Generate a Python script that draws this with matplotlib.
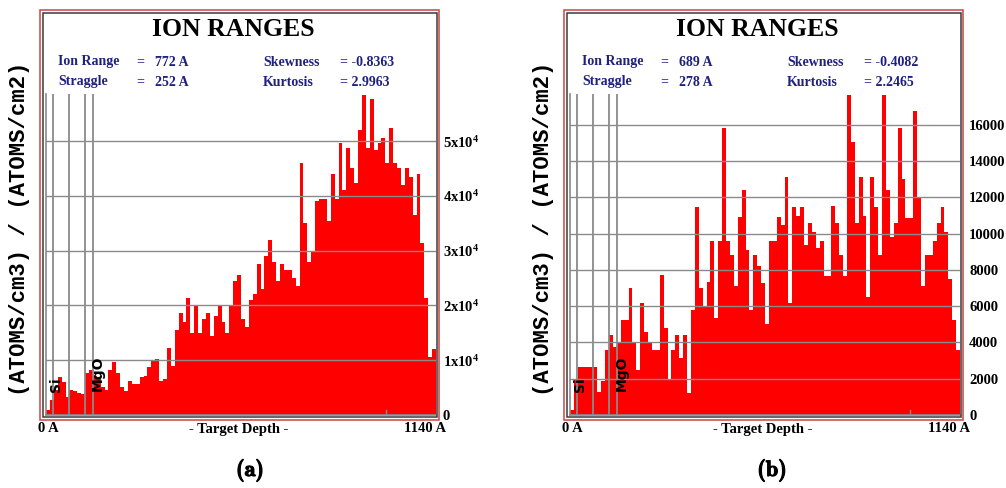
import os
import numpy as np
import matplotlib as mpl
import matplotlib.pyplot as plt
import matplotlib.patheffects as pe
from matplotlib.patches import Rectangle
from matplotlib.font_manager import FontProperties
from matplotlib.transforms import blended_transform_factory

plt.rcParams['mathtext.fontset'] = 'custom'
plt.rcParams['mathtext.rm'] = 'Liberation Serif:bold'
plt.rcParams['mathtext.it'] = 'Liberation Serif:bold'
plt.rcParams['mathtext.bf'] = 'Liberation Serif:bold'

W, H = 1006, 488

# depth axis (Angstrom), 100 bins
depth_max = 1140
n_bins = 100
layer_edges = [19, 67, 114, 137]
layer_names = ['Si', 'MgO']
layer_label_x = [28, 152]
depth_mark = 995

# ion distribution, (ATOMS/cm3)/(ATOMS/cm2)
conc_a = [
    900, 2700, 4500, 6900, 6000, 3300, 4500, 4300, 4000, 3800,
    7700, 8300, 7100, 6500, 5200, 4500, 8300, 9700, 7700, 5200,
    4300, 6200, 5600, 5600, 6900, 7200, 8800, 10000, 10300, 6200,
    6600, 12200, 9000, 15500, 18600, 17000, 21300, 15000, 20000, 15000,
    17500, 18600, 14500, 18000, 20000, 17000, 15000, 20000, 24500, 25500,
    17500, 16000, 21000, 22000, 27500, 23000, 29000, 32000, 28000, 24500,
    27500, 26500, 26500, 25000, 23500, 46000, 35000, 28000, 30000, 39000,
    39500, 39500, 35500, 44000, 39500, 49600, 41000, 48700, 45000, 42300,
    52000, 58400, 48700, 57600, 48400, 49600, 50500, 46000, 52400, 46000,
    45000, 42000, 45000, 43500, 36500, 44000, 31400, 21300, 10600, 12000,
]
conc_b = [
    300, 2000, 2650, 2650, 2650, 2650, 2650, 1270, 1900, 3580,
    4400, 3770, 3960, 5240, 5240, 7000, 3960, 2500, 6180, 4600,
    3960, 3580, 3580, 7700, 4800, 2000, 3580, 4420, 3130, 4420,
    1200, 5790, 11490, 7000, 6000, 7360, 9570, 5330, 9600, 15800,
    9600, 8830, 7100, 10900, 12400, 9100, 5800, 8830, 8200, 7300,
    5000, 9570, 9570, 10900, 10500, 13150, 6200, 11490, 11000, 11490,
    9400, 10580, 10100, 9200, 9570, 7660, 7660, 11500, 10580, 8830,
    7660, 17650, 15060, 10580, 13150, 11000, 6500, 13150, 11490, 8830,
    17650, 12400, 9800, 10580, 15830, 13000, 10880, 10880, 16740, 11950,
    7100, 8830, 8830, 9570, 10580, 11490, 10100, 7500, 5240, 3580,
]

ticks_a = [0, 10000, 20000, 30000, 40000, 50000]
tick_labels_a = ['0'] + [r'%dx10$^{4}$' % k for k in range(1, 6)]
ticks_b = list(range(0, 16001, 2000))
tick_labels_b = [str(t) for t in ticks_b]

stats_a = {'Ion Range': '772 A', 'Straggle': '252 A', 'Skewness': '-0.8363', 'Kurtosis': '2.9963'}
stats_b = {'Ion Range': '689 A', 'Straggle': '278 A', 'Skewness': '-0.4082', 'Kurtosis': '2.2465'}

SERIF = 'Liberation Serif'
NAVY = '#202080'
GRID = '#8a8a8a'
# computer modern bold for the panel tags
CMB = FontProperties(fname=os.path.join(mpl.get_data_path(), 'fonts', 'ttf', 'cmb10.ttf'), size=16)


def fx(x):
    return x / W


def fy(y):
    return 1 - y / H


def draw_panel(fig, dx, conc, ymax, ticks, tick_labels, stats, tag, label_pad):
    # outer red and inner dark frame
    fig.add_artist(Rectangle((fx(40 + dx), fy(420)), 399 / W, 410 / H,
                             transform=fig.transFigure, fill=False,
                             edgecolor='#cc4444', lw=1.1))
    fig.add_artist(Rectangle((fx(43 + dx), fy(417)), 394 / W, 404 / H,
                             transform=fig.transFigure, fill=False,
                             edgecolor='#3a3a3a', lw=1.1))

    ax = fig.add_axes([fx(46 + dx), fy(415), 390 / W, 321 / H])
    edges = np.linspace(0, depth_max, n_bins + 1)
    ax.stairs(conc, edges, fill=True, color='#ff0000', zorder=1)
    ax.set_xlim(0, depth_max)
    ax.set_ylim(0, ymax)

    ax.set_yticks(ticks)
    ax.set_yticklabels(tick_labels, fontfamily=SERIF, fontweight='bold', fontsize=10.5)
    ax.yaxis.tick_right()
    ax.tick_params(axis='y', length=0, pad=label_pad)
    ax.set_xticks([])
    ax.yaxis.grid(True, color=GRID, lw=1.0, zorder=2)
    ax.set_axisbelow(False)
    for s in ['top', 'right']:
        ax.spines[s].set_visible(False)
    for s in ['left', 'bottom']:
        ax.spines[s].set_color(GRID)
        ax.spines[s].set_linewidth(1.2)
    ax.patch.set_alpha(0)

    for d in layer_edges:
        ax.axvline(d, color=GRID, lw=1.3, zorder=3)
    ax.plot([depth_mark, depth_mark], [0, ymax * 0.015], color=GRID, lw=1.0, zorder=3)

    tr = blended_transform_factory(ax.transData, ax.transAxes)
    ax.text(layer_label_x[0], 0.093, layer_names[0], transform=tr, rotation=90,
            ha='center', va='center', fontsize=10, fontweight='bold',
            fontfamily='DejaVu Sans', zorder=4)
    ax.text(layer_label_x[1], 0.13, layer_names[1], transform=tr, rotation=90,
            ha='center', va='center', fontsize=10, fontweight='bold',
            fontfamily='DejaVu Sans', zorder=4)

    # header
    fig.text(fx(233 + dx), fy(29), 'ION RANGES', ha='center', va='center',
             fontfamily=SERIF, fontweight='bold', fontsize=18.5)
    rows = [('Ion Range', 'Skewness', 62), ('Straggle', 'Kurtosis', 82)]
    for left_key, right_key, y in rows:
        kw = dict(va='center', fontfamily=SERIF, fontweight='bold', fontsize=10, color=NAVY)
        fig.text(fx(58 + dx), fy(y), left_key, **kw)
        fig.text(fx(136 + dx), fy(y), '=', **kw)
        fig.text(fx(155 + dx), fy(y), stats[left_key], **kw)
        fig.text(fx(263 + dx), fy(y), right_key, **kw)
        fig.text(fx(340 + dx), fy(y), '= ' + stats[right_key], **kw)

    fig.text(fx(20 + dx), fy(229), '(ATOMS/cm3) / (ATOMS/cm2)', rotation=90,
             ha='center', va='center', fontfamily='Liberation Mono',
             fontweight='bold', fontsize=16)

    kw = dict(va='center', fontfamily=SERIF, fontweight='bold', fontsize=10.5)
    fig.text(fx(38 + dx), fy(429), '0 A', ha='left', **kw)
    fig.text(fx(239 + dx), fy(429), '- Target Depth -', ha='center', **kw)
    fig.text(fx(446 + dx), fy(429), '1140 A', ha='right', **kw)

    fig.text(fx(250 + dx * 0.9962), fy(470), tag, ha='center', va='center',
             fontproperties=CMB,
             path_effects=[pe.withStroke(linewidth=0.8, foreground='black')])
    return ax


fig = plt.figure(figsize=(W / 100, H / 100), dpi=100)
fig.patch.set_facecolor('white')

draw_panel(fig, 0, conc_a, 58600, ticks_a, tick_labels_a, stats_a, '(a)', 5)
draw_panel(fig, 524, conc_b, 17700, ticks_b, tick_labels_b, stats_b, '(b)', 6.5)

fig.savefig('out.png', dpi=100)
